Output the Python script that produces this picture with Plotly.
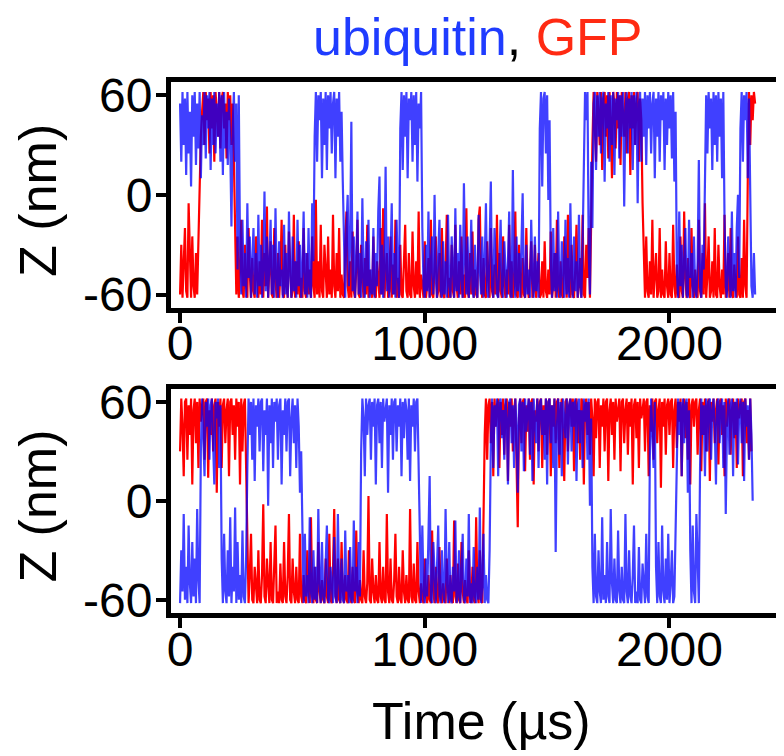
import plotly.graph_objects as go
from plotly.subplots import make_subplots

# ---------------- data (Z position in nm, sampled every 5 us) ----------------
DT_US = 5

ubq_top = [
    55, 20, 62, 30, 58, 12, 62, 25, 50, 5, 60, 35, 62, 18, 55, 28, 62, 10, 48, 30,
    62, 22, 60, 40, 62, 15, 58, 30, 62, 25, 55, 35, 62, 20, 60, 12, 62, 28, 50, 18,
    58, 30, -19, 40, 62, 20, 55, -45, 60, -30, -60, -15, -55, -35, -62, -5, -50, -25, -62, -40,
    -20, -60, -35, -62, -12, -55, -30, -62, -45, 2, -58, -25, -62, -40, -15, -60, -30, -62, -8, -50,
    -62, -28, -55, -45, -62, -18, -60, -35, -62, -10, -48, -62, -25, -58, -40, -62, -15, -55, -30, -62,
    -45, -10, -60, -35, -62, -20, -55, -62, -5, -40, 35, 62, 20, 60, 45, 62, 10, 58, 30, 62,
    15, 60, 40, 62, 25, 55, 62, 10, 58, 35, 62, 20, 50, 8, -40, -62, -20, 0, -55, -30,
    44, -58, -25, -62, -40, -10, -60, -35, -62, -2, -50, -62, -28, -55, -15, -62, -45, -60, -20, -62,
    -35, -55, -10, 11, -60, -30, -62, -45, 17, -58, -25, -62, -40, -5, -60, -35, -62, -15, -50, -62,
    40, 62, 15, 60, 35, 62, 10, 58, 45, 62, 20, 60, 30, 62, 8, 55, 40, 62, -20, -55,
    -62, -30, -58, -10, -62, -45, -25, -60, 0, -50, -62, -35, -15, -58, -62, -28, -60, -40, -62, -12,
    -55, -62, -25, -45, -62, -8, -58, -35, -62, -18, -50, -62, 7, -40, -60, -25, -62, -48, -15, -58,
    -62, -30, -55, -62, -12, -45, -60, -25, -62, -40, -5, -58, -62, -30, 8, -55, -62, -20, -48, -60,
    -62, -35, -15, -58, -62, -28, -50, -62, -40, -10, -60, -62, 15, -45, -62, -25, -58, -35, -62, -20,
    1, -55, -62, -30, -60, -45, -62, -15, -50, -62, -25, -58, -40, -62, 40, 62, 5, 58, 62, 25,
    60, -3, 45, -40, -62, -20, -58, -35, -62, -10, -55, -62, -28, -45, -62, -15, -60, -38, -62, -5,
    -50, -62, -25, -58, -40, -62, -12, -55, -62, -30, 30, 62, 45, 62, -35, -60, 20, -20, 55, 62,
    15, 60, 35, 62, 25, 58, 62, 8, 55, 40, 62, 20, 60, 30, 62, 12, 58, 45, 62, 22,
    60, 35, 62, -7, 50, 62, 25, 58, 40, 62, 15, 60, 30, 62, -5, 55, 62, 20, 58, 35,
    62, 18, 60, 40, 62, 25, 55, 62, 10, 58, 35, 62, 20, 60, 45, 62, 15, 58, 30, 62,
    40, 60, 22, 62, 8, 50, -45, -62, -10, -55, -30, -62, -40, -20, -60, -62, -15, -50, -35, -62,
    -25, -58, -62, -40, 21, -55, -62, -30, -45, 10, 60, 25, 62, 40, 58, 15, 62, 30, 60, 20,
    62, 35, 58, 10, 62, -15, -55, -62, -25, -45, -62, -10, -58, -35, -62, -20, 0, -50, 40, 62,
    20, 60, 45, 62, 10, 58, -20, -55, -62, -35, -60,
]

gfp_top = [
    -60, -30, -62, -45, -20, -58, -62, -5, -40, -62, -25, -55, -62, -35, -60, -20, 10, 35, 50, 62,
    30, 62, 45, 58, 25, 62, 40, 60, 20, 62, 50, 35, 62, 28, 58, 62, 40, 55, 22, 62,
    45, 60, 30, 55, 20, -35, -60, -25, -62, -45, -15, -58, -62, -30, -55, -62, -20, -48, -62, -38,
    -58, -62, -25, -50, -62, -40, -60, -15, -62, -35, -55, -7, -62, -45, -28, -60, -62, -20, -52, -62,
    -35, -62, -48, -15, -60, -62, -30, -55, -62, -22, -45, -62, -58, -12, -62, -40, -60, -28, -62, -50,
    -62, -20, -58, -62, -35, -60, -45, -62, -25, -55, -62, -3, -60, -40, -62, -18, -58, -62, -30, -50,
    -62, -25, -60, -45, -62, -12, -55, -62, -35, -58, -20, -62, -48, -60, -62, -30, -10, -55, -62, -40,
    -62, -22, -58, -62, -45, -15, -60, -62, -30, -52, -62, -38, -60, -18, -62, -45, -58, -62, -25, -60,
    -62, -40, -55, -62, -20, -60, -8, -62, -48, -35, -62, -58, -25, -62, -42, -60, -15, -62, -50, -62,
    -30, -60, -62, -45, -18, -58, -62, -35, -60, -62, -22, -55, -62, -40, -60, -10, -62, -48, -58, -62,
    -28, -62, -55, -38, -62, -15, -60, -62, -42, -25, -62, -58, -35, -62, -20, -60, -62, -45, -12, -62,
    -50, -62, -30, -58, -62, -18, -55, -62, -40, -60, -25, -62, -48, -62, -8, -58, -62, -35, -60, -22,
    -62, -45, -60, -62, -15, -7, -55, -62, -38, -60, -62, -28, -50, -62, -20, -58, -62, -42, -60, -12,
    -62, -35, -58, -62, -25, -55, -62, -45, -60, -18, -62, -40, -62, -55, -10, -60, -62, -30, -52, -62,
    -38, -60, -62, -20, -55, -62, -45, -28, -62, -58, -30, -62, -50, -35, -62, -60, -40, -62, -28, -58,
    -62, -45, -60, -22, -62, -55, -35, -62, -15, -58, -62, -40, -60, -62, -25, -50, -62, -12, -58, -62,
    -30, -60, -62, -45, -18, -62, -55, -38, -62, -12, -60, -62, -30, -50, -20, -62, -5, 30, 62, 45,
    20, 62, 50, 30, 62, 15, 58, 62, 35, 60, 22, 62, 45, 10, 62, 55, 28, 62, 40, 60,
    18, 62, 50, 35, 62, 25, 58, 62, 12, 60, 40, 62, 30, 55, 62, 20, 58, 45, -5, -40,
    -62, -25, -58, -62, -40, -60, -15, -62, -50, -35, -62, -58, -20, -62, -45, -60, -62, -28, -55, -62,
    -35, -60, -62, -18, -55, -62, -42, -60, -62, -25, -58, -62, -10, -50, -62, -38, -60, -62, -20, -55,
    -62, -45, -60, -62, -15, -58, -62, -35, -60, -5, -62, -48, -25, -62, -58, -40, -62, -20, -60, -62,
    -30, -55, -62, -45, -60, -12, -62, -58, -35, -62, -20, -60, -62, -42, -55, -62, -25, -60, -62, -38,
    -62, -15, -55, -62, 10, 62, 30, 60, 45, 62, 55,
]

ubq_bottom = [
    -62, -30, -55, -8, -60, -40, -62, -15, -50, -62, -25, -58, -35, -62, -5, -48, -62, 30, 62, 40,
    15, 60, 45, 62, 25, 58, 62, 35, 10, 60, 50, 62, 20, 58, -35, -62, -20, -55, -62, -30,
    -58, -10, -62, -40, -55, -4, -62, -25, -60, -45, -62, -18, -58, -62, -35, 20, 62, 40, 60, 25,
    62, 12, 58, 45, 62, 30, 60, 62, 18, 55, 40, 62, -3, 58, 35, 62, 20, 60, 48, 62,
    25, 58, 62, 10, 55, 40, 62, 30, 60, 62, 15, 50, 62, 35, 58, 20, 62, 45, 5, 30,
    -35, -62, -20, -58, -45, -62, -10, -55, -62, -30, -60, -40, -62, -5, -50, -62, -25, -58, -62, -35,
    -15, -60, -62, -40, -55, -62, -22, -58, -62, -8, -50, -62, -35, -60, -62, -18, -55, -45, -62, -28,
    -60, -62, -12, -55, -40, -62, -25, -58, 30, 62, 50, 15, 62, 40, 58, 62, 25, 60, 45, 62,
    10, 58, 62, 35, 60, 20, 62, 48, 55, 62, 5, 58, 40, 62, 25, 60, 62, 30, 58, 45,
    62, 15, 60, 38, 62, 55, 25, 62, 12, 58, 45, 62, 30, 60, 62, 18, -30, -62, -15, -55,
    -62, -35, -58, -10, 15, -60, -62, -25, -50, -62, -40, -15, -58, -62, -30, -55, -62, -5, -48, -62,
    -25, -60, -62, -40, -55, -12, -62, -58, -30, -62, -45, -20, -60, -62, -35, -58, -8, -62, -50, -62,
    -28, -58, -62, -40, -60, -4, -62, -52, -20, -62, -45, -60, -62, -30, 35, 62, 20, 58, 45, 62,
    15, 60, 62, 38, 55, 25, 62, 50, 10, 60, 62, 35, 58, 20, 62, 45, 5, 58, 62, 30,
    60, 18, 62, 42, 55, 62, 28, 60, 12, 62, 48, 35, 62, 20, 58, 62, 40, 55, 25, 62,
    10, 60, 62, 35, 58, 20, 62, -31, 45, 62, 28, 60, 15, 62, 50, 38, 62, 22, 58, 62,
    30, 60, 45, 62, 12, 58, 62, 35, 55, 20, 62, 48, 60, 25, 62, -3, 50, -40, -62, -20,
    -58, -62, -30, -55, -62, -10, -60, -45, -62, -25, -58, -62, -5, -50, -62, -35, -60, -62, -18, -55,
    -62, -40, -60, -62, -8, -55, -62, -30, -58, -62, -45, -15, -62, -55, -62, -28, -60, -62, -38, -50,
    -62, -20, -58, -62, 30, 62, 45, 20, 60, -40, -62, -25, -58, -62, -15, -55, -62, -35, -60, -20,
    -62, -50, -30, -62, -58, -10, 25, 62, 40, 60, 15, 62, 35, 58, 62, 5, 55, -30, -62, -15,
    -55, -62, -8, -45, -62, 20, 62, 40, 58, 15, 62, 30, 60, 62, 25, 55, 62, 45, 10, 60,
    62, 35, 58, 62, 20, 60, -8, 45, 62, 28, 58, 62, 15, 60, 40, 62, 22, 55, 62, 35,
    60, 12, 62, 45, 58, 25, 62, 40, 0,
]

gfp_bottom = [
    30, 62, 45, 15, 60, 62, 25, 58, 40, 62, 10, 55, 62, 35, 60, 20, 62, 48, 58, 62,
    25, 60, 62, 14, 55, 40, 62, 30, 58, 62, 5, 60, 45, 62, 20, 58, 62, 35, 55, 62,
    15, 60, 62, 40, 58, 25, 62, 45, 60, 10, 62, 30, 58, 62, 20, -35, -62, -45, -20, -60,
    -62, -40, -55, -62, -30, -60, -62, -45, -2, -58, -62, -35, -50, -62, -25, -60, -62, -42, -15, -62,
    -55, -62, -38, -60, -62, -25, -58, -62, -45, -8, -60, -62, -35, -55, -62, -40, -60, -62, -20, -58,
    -62, -45, -60, -62, -30, -55, -62, -10, -58, -62, -40, -60, -62, -25, -55, -62, -48, -60, -62, -35,
    -58, -62, -20, -60, -62, -42, -5, -58, -62, -35, -60, -62, -25, -55, -62, -45, -60, -62, -30, -58,
    -62, -40, -60, -62, -18, -55, -62, -48, -60, -62, -30, -58, -62, -50, 3, -60, -62, -35, -55, -62,
    -45, -60, -62, -25, -58, -62, -40, -60, -62, -8, -55, -62, -35, -60, -62, -48, -20, -58, -62, -40,
    -60, -62, -30, -55, -62, -45, -60, -62, -5, -58, -62, -38, -60, -62, -25, -55, -62, -50, -60, -62,
    -35, -58, -62, -45, -60, -62, -18, -55, -62, -40, -60, -62, -28, -58, -62, -50, -60, -62, -35, -55,
    -62, -45, -60, -62, -12, -58, -62, -38, -60, -62, -25, -55, -62, -48, -60, -62, -30, -58, -62, -40,
    -60, -62, -10, -55, -62, -30, -60, -62, 10, 40, 62, 25, 58, 62, 35, 60, 15, 62, 45, 58,
    62, 20, 60, 40, 62, 28, 58, 62, 12, 60, 45, 62, 30, 55, 62, 22, -16, 50, 62, 35,
    60, 62, 18, 58, 42, 62, 25, 60, 62, 10, 55, 48, 62, 30, 60, 62, 20, 58, 40, 62,
    28, 60, 62, 15, 58, 45, 62, 35, 60, 62, 20, 55, 62, 40, 12, 60, 62, 30, 58, 62,
    45, 62, 18, 60, 62, 35, 55, 25, 62, 60, 10, 58, 62, 40, 60, 28, 62, 50, 15, 62,
    38, 60, 62, 20, 58, 45, 62, 30, 60, 62, 12, 55, 62, 40, 60, 25, 62, 48, 58, 62,
    18, 60, 62, 35, 55, 62, 28, 60, 45, 62, 10, 58, 62, 38, 60, 20, 62, 50, 55, 62,
    30, 60, 62, 15, 58, 42, 62, 25, 60, 62, 35, 55, 62, 8, 60, 45, 62, 28, 58, 62,
    40, 60, 62, 20, 55, 62, 32, 60, 48, 62, 15, 58, 62, 38, 60, 25, 62, 10, 58, 62,
    45, 60, 62, 28, 55, 62, 18, 60, 40, 62, 30, 58, 62, 12, 60, 48, 62, 35, 55, 62,
    22, 60, 62, 40, 58, 15, 62, 45, 60, 62, 28, 55, 62, 38, 60, 20, 62, 50, 58, 62,
    15, 60, 62, 35, 55, 25, 62, 30,
]

x_ticks = [0, 1000, 2000]
x_ticktext = ["0", "1000", "2000"]
y_ticks = [-60, 0, 60]
y_ticktext = ["-60", "0", "60"]


def times(vals):
    return [i * DT_US for i in range(len(vals))]


RED = "#ff0000"
BLUE = "rgba(0,0,255,0.75)"
FONT = "Liberation Sans, Arial, sans-serif"
LW = 2.2

fig = make_subplots(rows=2, cols=1, shared_xaxes=False, vertical_spacing=0.0)

for row, (gfp, ubq) in enumerate([(gfp_top, ubq_top), (gfp_bottom, ubq_bottom)], start=1):
    fig.add_trace(go.Scatter(x=times(gfp), y=gfp, mode="lines",
                             line=dict(color=RED, width=LW), showlegend=False,
                             hoverinfo="skip"), row=row, col=1)
    fig.add_trace(go.Scatter(x=times(ubq), y=ubq, mode="lines",
                             line=dict(color=BLUE, width=LW), showlegend=False,
                             hoverinfo="skip"), row=row, col=1)

# page body adds an 8px offset, so the figure is laid out in (screen - 8) coordinates
OFF = 8
W, H = 784 - OFF, 756 - OFF
ML, MR, MT = 171 - OFF, 0, 82 - OFF
inner_bottom = 613.5 - OFF
MB = H - inner_bottom
plot_h = H - MT - MB


def py(screen_y):
    return (inner_bottom - (screen_y - OFF)) / plot_h


def px(screen_x):
    return (screen_x - OFF - ML) / (W - ML - MR)


top_dom = [py(308), 1.0]
bot_dom = [0.0, py(389)]

axis_common = dict(showline=True, linewidth=5, linecolor="black", ticks="outside",
                   ticklen=10, tickwidth=4, tickcolor="black", showgrid=False,
                   zeroline=False, tickfont=dict(family=FONT, size=48, color="black"))

fig.update_xaxes(range=[-37, 2468], tickvals=x_ticks, ticktext=x_ticktext,
                 mirror=True, ticklabelstandoff=-20, **axis_common)
fig.update_yaxes(range=[-68, 68], tickvals=y_ticks, ticktext=y_ticktext,
                 mirror=False, ticklabelstandoff=-6, **axis_common)
fig.update_layout(yaxis=dict(domain=top_dom), yaxis2=dict(domain=bot_dom))

annotations = [
    dict(text='<span style="color:#1f3cff">ubiquitin</span>, <span style="color:#ff2a12">GFP</span>',
         x=px(478), y=py(37), xref="paper", yref="paper", showarrow=False,
         xanchor="center", yanchor="middle", font=dict(family=FONT, size=52, color="black")),
    dict(text="Z (nm)", x=px(38), y=py(201), xref="paper", yref="paper",
         showarrow=False, textangle=-90, xanchor="center", yanchor="middle",
         font=dict(family=FONT, size=52, color="black")),
    dict(text="Z (nm)", x=px(38), y=py(507), xref="paper", yref="paper",
         showarrow=False, textangle=-90, xanchor="center", yanchor="middle",
         font=dict(family=FONT, size=52, color="black")),
    dict(text="Time (µs)", x=px(481), y=py(722), xref="paper", yref="paper",
         showarrow=False, xanchor="center", yanchor="middle",
         font=dict(family=FONT, size=52, color="black")),
]

fig.update_layout(width=W, height=H, margin=dict(l=ML, r=MR, t=MT, b=MB, pad=0),
                  plot_bgcolor="white", paper_bgcolor="white",
                  annotations=annotations, showlegend=False)

fig.write_html("out.html")
